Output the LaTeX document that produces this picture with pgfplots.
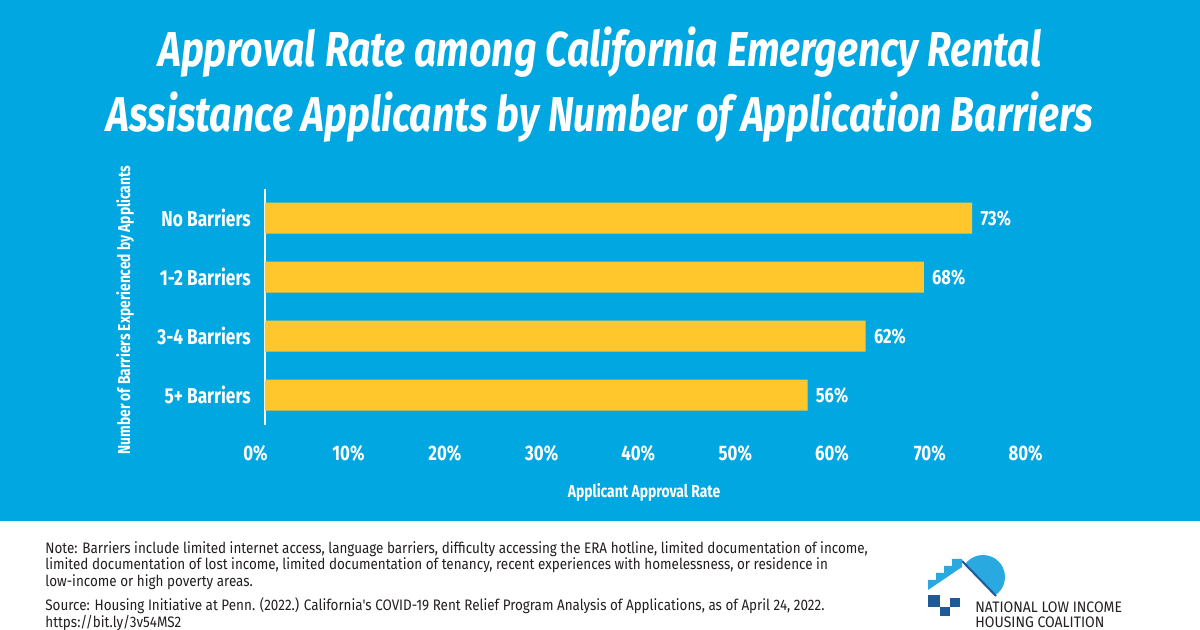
\documentclass[border=0pt]{standalone}
\usepackage{pgfplots}
\pgfplotsset{compat=1.18}
\usepackage{fontspec}
\setmainfont{Fira Sans}
\newfontfamily\titlefont[FakeStretch=0.80]{Fira Sans}
\newfontfamily\condfont[FakeStretch=0.80]{Fira Sans}
\newfontfamily\notefont[FakeStretch=0.885]{Fira Sans}
\newfontfamily\logofont[FakeStretch=0.92]{Fira Sans}
\definecolor{bg}{HTML}{00A7E1}
\definecolor{barc}{HTML}{FFC72C}
\definecolor{logoblue}{HTML}{2AA9E0}
\definecolor{logodark}{HTML}{1D5A96}
\definecolor{notegray}{HTML}{231F20}
\begin{document}
\begin{tikzpicture}
\begin{scope}[x=0.5pt,y=-0.5pt]
\useasboundingbox (0,0) rectangle (1200,630);
\fill[bg] (0,0) rectangle (1200,521);
\fill[white] (0,521) rectangle (1200,630);
% title
\node[anchor=base,white,inner sep=0,font=\titlefont\bfseries\itshape\fontsize{24.5}{28}\selectfont] at (600,67) {Approval Rate among California Emergency Rental};
\node[anchor=base,white,inner sep=0,font=\titlefont\bfseries\itshape\fontsize{24.5}{28}\selectfont] at (600,132) {Assistance Applicants by Number of Application Barriers};
% axis titles
\node[white,rotate=90,inner sep=0,font=\condfont\bfseries\fontsize{8.6}{10}\selectfont] at (125,310) {Number of Barriers Experienced by Applicants};
\node[white,inner sep=0,font=\condfont\bfseries\fontsize{8.7}{10}\selectfont] at (644,492) {Applicant Approval Rate};
% notes
\node[anchor=north west,inner sep=0,align=left,text=notegray,font=\notefont\fontsize{7.6}{8.35}\selectfont] at (45,541) {Note: Barriers include limited internet access, language barriers, difficulty accessing the ERA hotline, limited documentation of income,\\limited documentation of lost income, limited documentation of tenancy, recent experiences with homelessness, or residence in\\low-income or high poverty areas.};
\node[anchor=north west,inner sep=0,align=left,text=notegray,font=\notefont\fontsize{7.6}{7.7}\selectfont] at (45,597) {Source: Housing Initiative at Penn. (2022.) California's COVID-19 Rent Relief Program Analysis of Applications, as of April 24, 2022.\\https://bit.ly/3v54MS2};
% logo
\begin{scope}
\clip (962,561) -- (996,596) -- (1010,596) -- (1010,540) -- (962,540) -- cycle;
\fill[logoblue] (983,577) circle (22);
\end{scope}
\draw[logodark, line width=1] (962,561) -- (996,596);
\fill[logoblue] (928,590) -- (928,580) -- (936,580) -- (936,573) -- (944,573) -- (944,566) -- (952,566) -- (952,559) -- (962,559) -- (962,567) -- cycle;
\fill[logodark] (928,595) rectangle (940,607);
\fill[logodark] (950,598) rectangle (960,607);
\fill[logodark] (940,607) rectangle (950,616);
\node[anchor=base west,inner sep=0,align=left,text=notegray,font=\logofont\fontsize{7.6}{8.3}\selectfont] at (975,612) {NATIONAL LOW INCOME};
\node[anchor=base west,inner sep=0,align=left,text=notegray,font=\logofont\fontsize{7.6}{8.3}\selectfont] at (975,627) {HOUSING COALITION};
\end{scope}
\begin{axis}[
  at={(132.5pt,-212.25pt)}, anchor=south west,
  scale only axis, width=387.5pt, height=118pt,
  xmin=0, xmax=80, ymin=-0.5, ymax=3.5, y dir=reverse,
  xbar, bar width=15.5pt,
  separate axis lines,
  axis x line*=bottom, x axis line style={draw=none},
  axis y line*=left, y axis line style={white, line width=0.6pt},
  major tick length=0pt,
  xtick={0,10,...,80},
  xticklabel={\pgfmathprintnumber{\tick}\%},
  ytick={0,1,2,3},
  yticklabels={No Barriers,1-2 Barriers,3-4 Barriers,5+ Barriers},
  /pgf/number format/assume math mode=true,
  xticklabel style={anchor=north east, inner sep=0pt, xshift=1.5pt, yshift=-10pt, text=white, font=\condfont\bfseries\fontsize{10.5}{12}\selectfont},
  yticklabel style={anchor=east, inner sep=0pt, xshift=-7pt, text=white, font=\condfont\bfseries\fontsize{10.8}{12}\selectfont},
  nodes near coords={\pgfmathprintnumber{\pgfplotspointmeta}\%},
  point meta=x,
  nodes near coords style={anchor=west, inner sep=0pt, xshift=4pt, text=white, font=\condfont\bfseries\fontsize{10.3}{12}\selectfont},
]
\addplot[fill=barc, draw=none] coordinates {(73,0) (68,1) (62,2) (56,3)};
\end{axis}
\end{tikzpicture}
\end{document}
